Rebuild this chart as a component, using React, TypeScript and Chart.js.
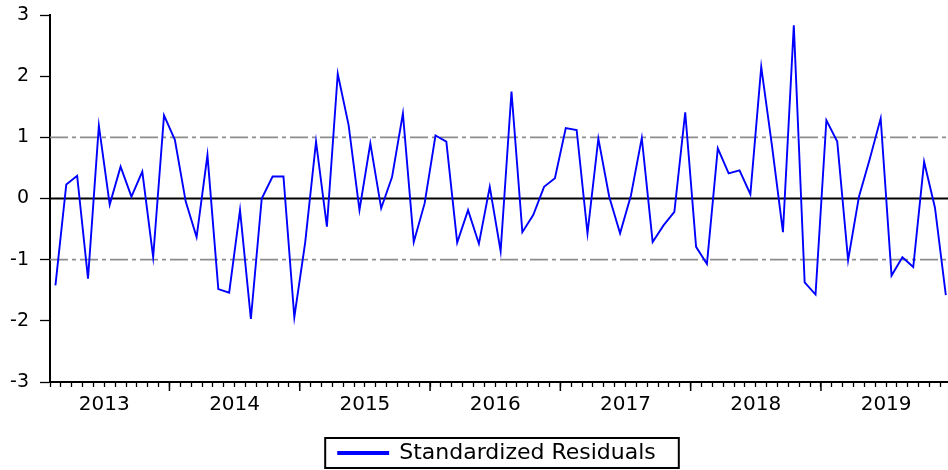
import { useEffect, useRef } from "react";
import { Chart, registerables } from "chart.js";

Chart.register(...registerables);

// Monthly sample: 2013M02 .. 2019M12
const years = ["2013", "2014", "2015", "2016", "2017", "2018", "2019"];
const firstYear = 2013;
const startMonth = 2; // February
const seriesLabel = "Standardized Residuals";
const residuals = [
  -1.42, 0.23, 0.37, -1.31, 1.19, -0.1, 0.52, 0.03, 0.44, -0.96, 1.36,
  0.96, -0.05, -0.63, 0.71, -1.48, -1.54, -0.19, -1.97, 0.0, 0.36, 0.36, -1.94,
  -0.72, 0.93, -0.46, 2.04, 1.2, -0.19, 0.9, -0.16, 0.35, 1.39, -0.71, -0.08, 1.03,
  0.93, -0.72, -0.19, -0.74, 0.19, -0.86, 1.75, -0.55, -0.27, 0.19, 0.33, 1.15,
  1.12, -0.57, 0.98, 0.03, -0.57, 0.05, 0.99, -0.71, -0.44, -0.22, 1.41, -0.79,
  -1.07, 0.82, 0.41, 0.46, 0.07, 2.15, 0.85, -0.55, 2.83, -1.37, -1.57, 1.28,
  0.93, -1.01, 0.03, 0.65, 1.31, -1.26, -0.96, -1.12, 0.6, -0.15, -1.58,
];
const bandLevels = [1, -1];
const zeroLevel = 0;
const yMin = -3;
const yMax = 3;

const FONT = "'DejaVu Sans', sans-serif";

const yearTicksPlugin = {
  id: "yearTicks",
  afterDraw(chart: any) {
    const xs = chart.scales.x;
    const { ctx } = chart;
    const bottom = chart.chartArea.bottom;
    ctx.save();
    ctx.strokeStyle = "#000";
    ctx.lineWidth = 1.5;
    years.forEach((_y, k) => {
      const v = k * 12 - (startMonth - 1) - 0.5;
      if (v < xs.min || v > xs.max) return;
      const px = xs.getPixelForValue(v);
      ctx.beginPath();
      ctx.moveTo(px, bottom);
      ctx.lineTo(px, bottom + 9);
      ctx.stroke();
    });
    ctx.restore();
  },
};

const legendBoxPlugin = {
  id: "legendBox",
  beforeDraw(chart: any) {
    const lg = chart.legend;
    if (!lg) return;
    const ca = chart.chartArea;
    const dx = (ca.left + ca.right) / 2 - 2 - (lg.left + lg.right) / 2;
    const dy = 4;
    lg.left += dx;
    lg.right += dx;
    lg.top += dy;
    lg.bottom += dy;
    (lg.legendHitBoxes || []).forEach((hb: any) => {
      hb.left += dx;
      hb.top += dy;
    });
  },
  afterDraw(chart: any) {
    const lg = chart.legend;
    if (!lg || !lg.legendHitBoxes || !lg.legendHitBoxes.length) return;
    const hb = lg.legendHitBoxes[0];
    const { ctx } = chart;
    ctx.save();
    ctx.strokeStyle = "#000";
    ctx.lineWidth = 2;
    ctx.strokeRect(hb.left - 13, hb.top - 4, hb.width + 36, hb.height + 8);
    ctx.restore();
  },
};

export default function App() {
  const ref = useRef<HTMLCanvasElement>(null);

  useEffect(() => {
    if (!ref.current) return;
    const n = residuals.length;
    const xMin = -0.5;
    const xMax = n - 0.8;
    const resData = residuals.map((v, i) => ({ x: i, y: v }));
    const flat = (lvl: number) => [
      { x: xMin, y: lvl },
      { x: n - 0.5, y: lvl },
    ];

    const chart = new Chart(ref.current, {
      type: "line",
      data: {
        datasets: [
          {
            label: seriesLabel,
            data: resData,
            borderColor: "#0000ff",
            backgroundColor: "#0000ff",
            borderWidth: 1.9,
            pointRadius: 0,
            tension: 0,
          },
          {
            label: "zero",
            data: flat(zeroLevel),
            borderColor: "#000",
            borderWidth: 1.8,
            pointRadius: 0,
          },
          ...bandLevels.map((lvl) => ({
            label: "band" + lvl,
            data: flat(lvl),
            borderColor: "#8c8c8c",
            borderWidth: 1.6,
            borderDash: [18, 4, 4, 4],
            pointRadius: 0,
          })),
        ],
      },
      options: {
        responsive: false,
        animation: false,
        events: [],
        layout: { padding: { top: 15, left: 0, right: 0, bottom: 0 } },
        plugins: {
          tooltip: { enabled: false },
          legend: {
            position: "bottom",
            labels: {
              filter: (item: any) => item.datasetIndex === 0,
              boxWidth: 50,
              boxHeight: 2,
              color: "#000",
              font: { family: FONT, size: 22 },
              padding: 5,
            },
          },
        },
        scales: {
          x: {
            type: "linear",
            min: xMin,
            max: xMax,
            afterBuildTicks: (s: any) => {
              const t = [];
              for (let m = 0; m - 0.5 <= xMax; m++) t.push({ value: m - 0.5 });
              s.ticks = t;
            },
            afterFit: (s: any) => {
              s.height += 10;
            },
            ticks: {
              autoSkip: false,
              maxRotation: 0,
              color: "#000",
              font: { family: FONT, size: 20 },
              padding: 6,
              callback: (value: any) => {
                const m = Math.round(Number(value) + 0.5);
                const abs = startMonth - 1 + m;
                if (abs % 12 !== 6) return "";
                const yi = Math.floor(abs / 12);
                return years[yi] ?? String(firstYear + yi);
              },
            },
            grid: {
              drawOnChartArea: false,
              drawTicks: true,
              tickLength: 5,
              tickColor: "#000",
              tickWidth: 1.3,
            },
            border: { color: "#000", width: 2 },
          },
          y: {
            min: yMin,
            max: yMax,
            afterFit: (s: any) => {
              s.width = 50;
              s.paddingTop = 0;
              s.paddingBottom = 0;
            },
            ticks: {
              stepSize: 1,
              color: "#000",
              font: { family: FONT, size: 19 },
              padding: 11,
            },
            grid: {
              drawOnChartArea: false,
              drawTicks: true,
              tickLength: 10,
              tickColor: "#000",
              tickWidth: 1.3,
            },
            border: { color: "#000", width: 2 },
          },
        },
      },
      plugins: [yearTicksPlugin, legendBoxPlugin],
    } as any);

    return () => chart.destroy();
  }, []);

  return (
    <div style={{ position: "absolute", left: 0, top: 0, width: 948, height: 470, background: "#fff" }}>
      <canvas ref={ref} width={948} height={470} style={{ display: "block" }} />
    </div>
  );
}
